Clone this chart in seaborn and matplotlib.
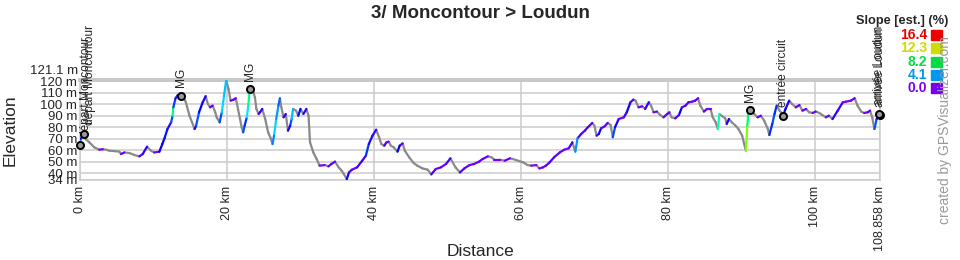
import numpy as np
import pandas as pd
import matplotlib
matplotlib.use("Agg")
import matplotlib.pyplot as plt
import seaborn as sns
from matplotlib.colors import hsv_to_rgb, to_hex
from matplotlib.patches import Rectangle

title = "3/ Moncontour > Loudun"

dist_km = [0.0, 0.1, 0.36, 0.6, 0.8, 1.27, 1.95, 2.63, 3.1, 3.54, 3.99, 4.67, 5.35, 5.58, 6.03,
           6.71, 7.39, 8.07, 8.53, 9.12, 9.66, 10.1, 10.8, 11.2, 11.5, 11.9, 12.4, 12.6, 12.7,
           13.0, 13.3, 13.7, 14.1, 14.4, 14.9, 15.6, 15.8, 16.2, 16.7, 17.1, 17.4, 17.7, 18.05,
           18.4, 18.6, 19.0, 19.3, 19.6, 19.9, 20.2, 20.5, 20.9, 21.2, 21.5, 22.0, 22.2, 22.4,
           22.7, 22.9, 23.1, 23.4, 23.6, 23.8, 24.0, 24.3, 24.5, 24.8, 25.2, 25.6, 25.9, 26.2,
           26.4, 26.7, 27.0, 27.2, 27.4, 27.7, 28.0, 28.3, 28.6, 28.8, 29.0, 29.4, 29.7, 30.0,
           30.4, 30.8, 31.1, 31.3, 31.75, 32.2, 32.6, 33.3, 33.8, 34.2, 34.7, 35.2, 35.6, 35.9,
           36.3, 36.6, 37.0, 37.7, 38.4, 38.9, 39.3, 39.8, 40.3, 40.7, 41.0, 41.4, 41.7, 42.0,
           42.3, 42.7, 43.2, 43.5, 43.9, 44.2, 44.8, 45.4, 45.9, 46.6, 47.3, 47.8, 48.4, 49.1,
           49.8, 50.4, 51.1, 51.7, 52.3, 53.0, 53.6, 54.3, 54.8, 55.5, 56.0, 56.4, 57.1, 57.8,
           58.5, 58.9, 59.6, 60.3, 60.9, 61.4, 62.1, 62.5, 63.0, 63.4, 63.9, 64.5, 65.3, 65.9,
           66.5, 67.0, 67.4, 67.7, 68.2, 68.7, 69.1, 69.7, 70.0, 70.3, 70.6, 70.9, 71.4, 71.8,
           72.2, 72.5, 72.8, 73.3, 74.0, 74.4, 74.9, 75.3, 75.6, 76.0, 76.5, 76.9, 77.4, 77.7,
           78.05, 78.5, 78.95, 79.4, 79.9, 80.2, 80.5, 81.0, 81.5, 81.9, 82.4, 82.8, 83.3, 83.7,
           84.1, 84.4, 84.9, 85.3, 85.8, 86.1, 86.5, 86.8, 87.0, 87.3, 87.8, 88.0, 88.3, 88.7,
           89.2, 89.6, 90.1, 90.6, 90.8, 90.97, 91.3, 91.75, 92.2, 92.65, 93.1, 93.6, 93.8, 94.2,
           94.5, 94.8, 95.2, 95.7, 96.0, 96.5, 96.9, 97.4, 97.9, 98.3, 98.8, 99.2, 99.7, 100.1,
           100.6, 101.0, 101.5, 101.9, 102.4, 103.1, 103.8, 104.2, 104.9, 105.4, 105.8, 106.3,
           106.7, 107.2, 107.5, 107.8, 108.1, 108.4, 108.858]

elev_m = [65.5, 69.7, 73.0, 72.5, 69.5, 66.8, 62.4, 60.4, 60.8, 60.4, 59.5, 59.2, 58.7, 56.6, 58.0,
          57.5, 55.8, 54.6, 56.6, 63.0, 59.5, 58.0, 58.7, 65.3, 70.3, 78.4, 84.2, 90.0, 97.3,
          105.2, 108.0, 107.5, 106.0, 101.7, 90.0, 78.4, 81.3, 93.0, 101.7, 107.0, 100.2, 97.3, 98.8,
          93.0, 88.6, 84.2, 93.0, 107.5, 121.1, 113.3, 103.1, 104.0, 105.2, 95.9, 79.9, 75.5, 81.3,
          88.6, 98.8, 113.3, 111.9, 110.4, 106.0, 95.9, 91.5, 93.0, 95.9, 87.1, 75.5, 71.2, 65.3,
          72.6, 87.1, 98.8, 105.2, 97.3, 88.6, 91.5, 77.0, 81.3, 87.1, 95.9, 94.4, 90.0, 95.9,
          91.5, 95.9, 90.0, 66.8, 58.0, 52.3, 46.5, 47.0, 45.9, 47.9, 50.0, 45.0, 42.1, 39.2,
          34.8, 40.6, 43.0, 45.0, 50.8, 55.2, 65.3, 72.6, 77.8, 71.2, 65.3, 63.9, 66.8, 67.4,
          63.9, 62.4, 58.7, 63.9, 65.9, 59.5, 53.7, 48.8, 46.5, 44.1, 43.0, 38.9, 43.5, 45.0,
          47.9, 52.9, 45.0, 40.6, 44.1, 47.0, 47.9, 50.0, 52.3, 54.6, 53.7, 51.7, 51.7, 50.8,
          52.9, 52.3, 50.8, 49.4, 47.0, 46.5, 47.0, 44.1, 45.0, 46.5, 49.4, 53.7, 58.1, 60.4,
          61.6, 66.8, 58.7, 70.3, 74.1, 77.0, 79.9, 83.7, 81.3, 72.6, 74.1, 79.0, 80.8, 83.7,
          81.9, 71.2, 79.9, 87.1, 88.6, 93.0, 101.7, 104.0, 103.1, 97.3, 98.2, 95.9, 101.7, 98.8,
          93.0, 93.6, 90.6, 88.6, 91.5, 93.0, 88.6, 87.7, 90.6, 97.3, 98.8, 101.7, 102.2, 103.1,
          105.2, 98.8, 93.6, 95.9, 95.9, 88.6, 84.2, 78.4, 91.5, 90.0, 87.7, 82.8, 87.1, 84.2,
          81.3, 78.4, 72.6, 59.5, 81.3, 94.4, 95.9, 91.5, 88.6, 90.0, 85.7, 78.4, 73.2, 82.8,
          91.5, 98.8, 94.4, 90.6, 95.9, 103.1, 100.2, 97.3, 99.3, 94.4, 95.9, 93.0, 92.4, 93.6,
          92.4, 90.6, 88.6, 90.0, 87.1, 94.4, 101.7, 102.2, 103.1, 105.2, 98.8, 93.6,
          92.4, 93.0, 94.4, 88.6, 78.4, 87.1, 90.6]

wp_dist = [0.0, 0.55, 13.7, 23.1, 91.2, 95.7, 108.858, 108.75]
wp_elev = [64.5, 74.5, 107.5, 113.0, 95.0, 90.0, 90.6, 91.8]
wp_label = ["départ Moncontour", "départ Moncontour", "MG", "MG", "MG",
            "entrée circuit", "arrivée Loudun", "arrivée Loudun"]

legend_values = [16.4, 12.3, 8.2, 4.1, 0.0]
legend_colors = ["#ee0000", "#ccdd00", "#00dd44", "#0099ee", "#7700ee"]
legend_hues = [0, 65, 138, 201, 270]

x_ticks = [0, 20, 40, 60, 80, 100, 108.858]
x_labels = ["0 km", "20 km", "40 km", "60 km", "80 km", "100 km", "108.858 km"]
y_ticks = [34, 40, 50, 60, 70, 80, 90, 100, 110, 120]
y_labels = ["34 m", "40 m", "50 m", "60 m", "70 m", "80 m", "90 m", "100 m", "110 m", "120 m"]
y_top = 121.1

sns.set_style("white")
plt.rcParams['font.family'] = ['Liberation Sans', 'DejaVu Sans']

fig = plt.figure(figsize=(9.6, 2.6), dpi=100)
ax = fig.add_axes([80 / 960, 80 / 260, 800 / 960, 100 / 260])


def slope_color(s):
    if s < 0:
        return "#8a8a8a"
    h = np.interp(s, legend_values[::-1], legend_hues[::-1]) / 360.0
    return to_hex(hsv_to_rgb([h, 1.0, 1.0]))


rows = []
for i in range(len(dist_km) - 1):
    dd = (dist_km[i + 1] - dist_km[i]) * 1000.0
    slope = (elev_m[i + 1] - elev_m[i]) / dd * 100.0
    c = slope_color(slope)
    rows.append((i, dist_km[i], elev_m[i], c))
    rows.append((i, dist_km[i + 1], elev_m[i + 1], c))
df = pd.DataFrame(rows, columns=["seg", "dist", "elev", "color"])
pal = {c: c for c in df["color"].unique()}

sns.lineplot(data=df, x="dist", y="elev", hue="color", palette=pal, units="seg",
             estimator=None, sort=False, legend=False, linewidth=1.6,
             solid_capstyle="round", ax=ax, zorder=3)

sns.scatterplot(x=wp_dist, y=wp_elev, s=26, color="#9a9a9a", edgecolor="black",
                linewidth=1.4, zorder=6, clip_on=False, ax=ax)
for d, e, l in zip(wp_dist, wp_elev, wp_label):
    ax.annotate(l, (d, e), xytext=(0, 6), textcoords="offset points", rotation=90,
                ha="left" if d < 1 else "center", va="bottom", fontsize=8.6,
                annotation_clip=False)

ax.set_xlim(0, 108.858)
ax.set_ylim(34, y_top)
ax.set_xticks(x_ticks)
ax.set_xticklabels(x_labels, rotation=90, fontsize=9)
ax.set_yticks(y_ticks)
ax.set_yticklabels(y_labels, fontsize=9.5)
ax.tick_params(length=0, pad=2)
ax.tick_params(axis="x", pad=4)
ax.grid(True, color="#cccccc", linewidth=1.1)
ax.set_axisbelow(True)
for side in ["left", "right", "bottom"]:
    ax.spines[side].set_color("#cccccc")
    ax.spines[side].set_linewidth(1.1)
ax.spines["top"].set_color("#c8c8c8")
ax.spines["top"].set_linewidth(2.8)

ax.annotate(f"{y_top} m", xy=(0, y_top), xycoords=("axes fraction", "data"),
            xytext=(-2, 9), textcoords="offset pixels", ha="right", va="center",
            fontsize=9.5, annotation_clip=False)

ax.set_ylabel("Elevation", fontsize=12.5)
ax.yaxis.set_label_coords(-0.0775, 0.5)
ax.set_xlabel("Distance", fontsize=12.5, va="center")
ax.xaxis.set_label_coords(0.5, -0.72)

fig.text(0.5, 1 - 13 / 260, title, ha="center", va="center", fontsize=13.5, weight="bold")

fig.text(948 / 960, 1 - 21 / 260, "Slope [est.] (%)", ha="right", va="center",
         fontsize=9.2, weight="bold")
for i, (v, c) in enumerate(zip(legend_values, legend_colors)):
    y = 35 + 13.3 * i
    fig.text(927 / 960, 1 - y / 260, f"{v:.1f}", color=c, ha="right", va="center",
             fontsize=10, weight="bold")
    fig.patches.append(Rectangle((931 / 960, 1 - (y + 5) / 260), 11 / 960, 10 / 260,
                                 transform=fig.transFigure, color=c))

fig.text(945 / 960, 1 - 130 / 260, "created by GPSVisualizer.com", rotation=90,
         color="#999999", fontsize=10, ha="center", va="center")

fig.savefig("out.png", dpi=100)
